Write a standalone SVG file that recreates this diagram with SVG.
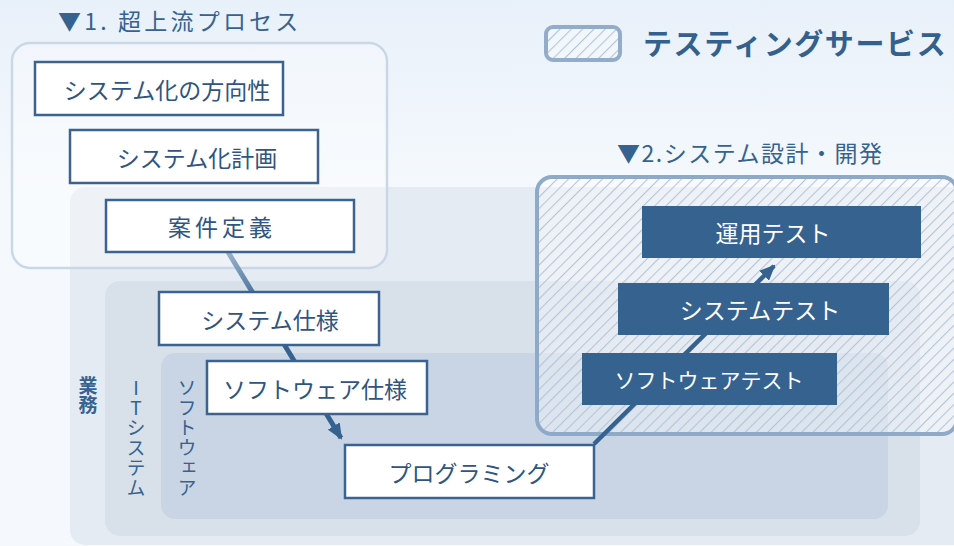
<svg xmlns="http://www.w3.org/2000/svg" width="954" height="546" viewBox="0 0 954 546">
<defs>
<linearGradient id="bg" x1="0" y1="0" x2="0" y2="1">
<stop offset="0" stop-color="#e8f0f9"/>
<stop offset="0.35" stop-color="#f5f9fd"/>
<stop offset="1" stop-color="#f5f9fd"/>
</linearGradient>
<pattern id="hatch" patternUnits="userSpaceOnUse" width="8" height="8" patternTransform="rotate(45)">
<rect width="8" height="8" fill="#ffffff" fill-opacity="0.35"/>
<line x1="0" y1="0" x2="0" y2="8" stroke="#b3c5da" stroke-width="2.2"/>
</pattern>
<linearGradient id="fade" gradientUnits="userSpaceOnUse" x1="228" y1="252" x2="262" y2="305">
<stop offset="0" stop-color="#9bb3cd"/>
<stop offset="1" stop-color="#36628f"/>
</linearGradient>
<marker id="ah2" markerWidth="16" markerHeight="14" refX="14" refY="7" orient="auto" markerUnits="userSpaceOnUse">
<path d="M0,0 L16,7 L0,14 z" fill="#36628f"/>
</marker>
</defs>
<style>
.t{font-family:"Noto Sans CJK JP","Noto Sans",sans-serif;}
.head{font-size:23px;fill:#36628f;}
.wn rect{fill:#ffffff;stroke:#3a6391;stroke-width:2.5;}
.wn text{font-size:23px;fill:#2f5580;text-anchor:middle;dominant-baseline:central;}
.dn rect{fill:#36628f;}
.dn text{font-size:23px;fill:#ffffff;text-anchor:middle;dominant-baseline:central;}
.vt{font-size:19px;fill:#36628f;writing-mode:vertical-rl;text-orientation:upright;}
</style>
<rect width="954" height="546" fill="url(#bg)"/>

<g id="regions">
<rect id="business" x="70" y="187" width="900" height="358" rx="15" fill="#e5ebf3"/>
<rect id="itsystem" x="105" y="281" width="815" height="255" rx="15" fill="#d8e0ea"/>
<rect id="software" x="161" y="353" width="727" height="166" rx="14" fill="#c9d5e4"/>
</g>

<g id="upstream">
<rect x="12" y="43" width="375" height="225" rx="18" fill="#ffffff" fill-opacity="0.35" stroke="#c9d7e7" stroke-width="2.5"/>
<text class="t head" x="58" y="30" letter-spacing="3.2">▼1. 超上流プロセス</text>
</g>

<g id="testing-area">
<rect x="537" y="177" width="420" height="257" rx="15" fill="url(#hatch)" stroke="#8fa9c9" stroke-width="4"/>
<text class="t head" x="617" y="162" letter-spacing="1.5">▼2.システム設計・開発</text>
</g>

<g id="legend">
<rect x="546" y="27" width="74" height="33" rx="7" fill="url(#hatch)" stroke="#93acca" stroke-width="4"/>
<text class="t" x="643" y="55" font-size="29" font-weight="bold" fill="#34608d" letter-spacing="1.6">テスティングサービス</text>
</g>

<g id="labels">
<text class="t vt" x="88" y="376" font-weight="600">業務</text>
<text class="t vt" x="136" y="378" letter-spacing="1">ITシステム</text>
<text class="t vt" x="187" y="378" letter-spacing="1">ソフトウェア</text>
</g>

<g id="connectors">
<line x1="228" y1="252" x2="341" y2="438" stroke="url(#fade)" stroke-width="5" marker-end="url(#ah2)"/>
<line x1="594" y1="444" x2="774" y2="266" stroke="#36628f" stroke-width="4.5" marker-end="url(#ah2)"/>
</g>

<g id="n1" class="wn"><rect x="35" y="62" width="248" height="53"/><text class="t" x="167" y="89">システム化の方向性</text></g>
<g id="n2" class="wn"><rect x="70" y="130" width="248" height="53"/><text class="t" x="197" y="157">システム化計画</text></g>
<g id="n3" class="wn"><rect x="106" y="200" width="248" height="52"/><text class="t" x="222" y="226" letter-spacing="4">案件定義</text></g>
<g id="n4" class="wn"><rect x="159" y="292" width="220" height="53"/><text class="t" x="270" y="319">システム仕様</text></g>
<g id="n5" class="wn"><rect x="207" y="361" width="220" height="53"/><text class="t" x="315" y="388">ソフトウェア仕様</text></g>
<g id="n6" class="wn"><rect x="345" y="445" width="249" height="53"/><text class="t" x="469" y="472">プログラミング</text></g>

<g id="t1" class="dn"><rect x="642" y="206" width="279" height="52"/><text class="t" x="773" y="232">運用テスト</text></g>
<g id="t2" class="dn"><rect x="618" y="283" width="271" height="52"/><text class="t" x="760" y="309">システムテスト</text></g>
<g id="t3" class="dn"><rect x="582" y="353" width="255" height="52"/><text class="t" x="709" y="379" style="font-size:21px">ソフトウェアテスト</text></g>
</svg>
